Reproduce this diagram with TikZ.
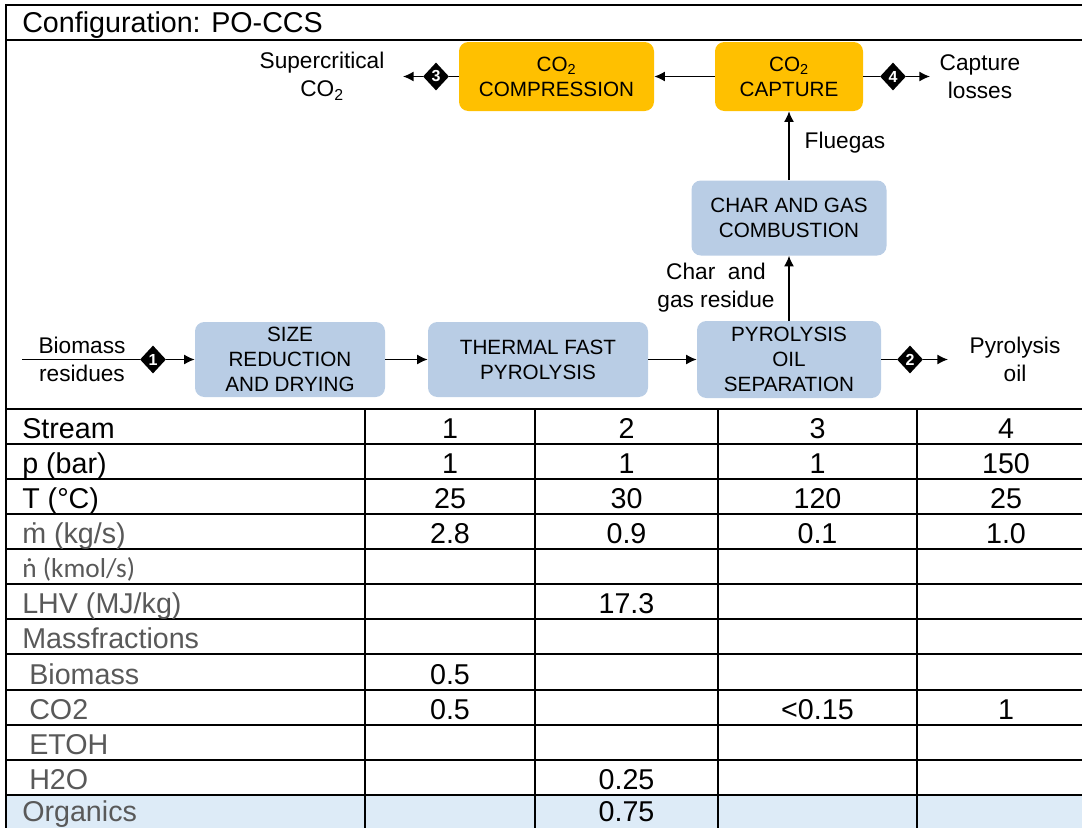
\documentclass[tikz,border=0pt]{standalone}
\usepackage{fontspec}
\setmainfont{Liberation Sans}
\newfontfamily\calib{Carlito}
\usetikzlibrary{shapes.geometric,arrows.meta}
\definecolor{boxblue}{HTML}{B9CDE5}
\definecolor{boxorange}{HTML}{FFC000}
\definecolor{rowblue}{HTML}{DDEBF7}
\definecolor{txtgray}{HTML}{595959}
\tikzset{
  px/.style={x=0.75pt,y=-0.75pt},
  proc/.style={rounded corners=7pt, inner sep=0pt, align=center,
    font=\fontsize{15.5}{18.75}\selectfont},
  bluebox/.style={proc, fill=boxblue},
  orangebox/.style={proc, fill=boxorange},
  lbl/.style={align=center, inner sep=0pt, font=\fontsize{17}{21}\selectfont},
  dia/.style={diamond, fill=black, text=white, inner sep=0pt,
    minimum width=19.5pt, minimum height=21pt,
    font=\fontsize{12}{12}\selectfont\bfseries},
  flow/.style={line width=1.1pt, -{Latex[length=8pt,width=7.5pt]}},
  plain/.style={line width=1.1pt},
  frame/.style={line width=1.9pt},
  grid/.style={line width=1.6pt},
  tlab/.style={anchor=base west, inner sep=0pt, font=\fontsize{21.5}{24}\selectfont},
  tval/.style={anchor=base, inner sep=0pt, font=\fontsize{21.5}{24}\selectfont},
}
\begin{document}
\begin{tikzpicture}[px]
\useasboundingbox (0,0) rectangle (1082,828);
\clip (0,0) rectangle (1082,828);
% organics row fill
\fill[rowblue] (7,795) rectangle (1100,830);
% frame
\draw[frame] (1100,5) -- (6,5) -- (6,830);
\draw[frame] (6,40) -- (1100,40);
\node[tlab] (title) at (22,32) {Configuration: PO-CCS};
% table grid
\foreach \y in {409,444,479,514,549,584,619,654,690,725,760,795}
  \draw[grid] (6,\y) -- (1100,\y);
\foreach \x in {365,535,718,917}
  \draw[grid] (\x,409) -- (\x,830);
% process boxes
\node[bluebox, minimum width=142.5pt, minimum height=56.25pt] (size) at (290,359.5) {SIZE\\REDUCTION\\AND DRYING};
\node[bluebox, minimum width=165pt, minimum height=56.25pt] (therm) at (538,359.5) {THERMAL FAST\\PYROLYSIS};
\node[bluebox, minimum width=138pt, minimum height=57.75pt] (pyro) at (789,359.5) {PYROLYSIS\\OIL\\SEPARATION};
\node[bluebox, minimum width=146.25pt, minimum height=56.25pt] (comb) at (789,218) {CHAR AND GAS\\COMBUSTION};
\node[orangebox, minimum width=111pt, minimum height=51.75pt] (capt) at (789,76.5) {CO\textsubscript{2}\\CAPTURE};
\node[orangebox, minimum width=146.25pt, minimum height=51.75pt] (comp) at (556.5,76.5) {CO\textsubscript{2}\\COMPRESSION};
% diamonds
\node[dia] (d1) at (153,359.5) {1};
\node[dia] (d2) at (910,359.5) {2};
\node[dia] (d3) at (436,76.5) {3};
\node[dia] (d4) at (893,76.5) {4};
% free ends
\coordinate (bin) at (22,359.5);
\coordinate (pout) at (948,359.5);
\coordinate (sout) at (403,76.5);
\coordinate (lout) at (930,76.5);
% connectors
\draw[plain] (bin) -- (d1);
\draw[flow] (d1) -- (size);
\draw[flow] (size) -- (therm);
\draw[flow] (therm) -- (pyro);
\draw[plain] (pyro) -- (d2);
\draw[flow] (d2) -- (pout);
\draw[flow] (pyro) -- (comb);
\draw[flow] (comb) -- (capt);
\draw[flow] (capt) -- (comp);
\draw[plain] (comp) -- (d3);
\draw[flow] (d3) -- (sout);
\draw[plain] (capt) -- (d4);
\draw[flow] (d4) -- (lout);
% labels
\node[lbl] (lbio) at (82,359.5) {Biomass\\residues};
\node[lbl] (lpyo) at (1015,359.5) {Pyrolysis\\oil};
\node[lbl] (lsup) at (322,76.5) {Supercritical\\CO\textsubscript{2}};
\node[lbl] (lcap) at (980,76.5) {Capture\\losses};
\node[lbl] (lchar) at (716,288) {Char\ \ and\\gas residue};
\node[lbl] (lflue) at (845,143) {Fluegas};
% table text
\node[tlab] (r1) at (22,438) {Stream};
\node[tlab] (r2) at (22,473) {p (bar)};
\node[tlab] (r3) at (22,508) {T (°C)};
\node[tlab, text=txtgray] (r4) at (22,543) {ṁ (kg/s)};
\node[tlab, text=txtgray, font=\calib\fontsize{20.5}{22}\selectfont] (r5) at (22,577) {ṅ (kmol/s)};
\node[tlab, text=txtgray] (r6) at (22,613) {LHV (MJ/kg)};
\node[tlab, text=txtgray] (r7) at (22,648) {Massfractions};
\node[tlab, text=txtgray] (r8) at (29,684) {Biomass};
\node[tlab, text=txtgray] (r9) at (29,719) {CO2};
\node[tlab, text=txtgray] (r10) at (29,754) {ETOH};
\node[tlab, text=txtgray] (r11) at (29,789) {H2O};
\node[tlab, text=txtgray] (r12) at (22,821.5) {Organics};
% values
\node[tval] (v11) at (450,438) {1};
\node[tval] (v12) at (626.5,438) {2};
\node[tval] (v13) at (817.5,438) {3};
\node[tval] (v14) at (1006,438) {4};
\node[tval] (v21) at (450,473) {1};
\node[tval] (v22) at (626.5,473) {1};
\node[tval] (v23) at (817.5,473) {1};
\node[tval] (v24) at (1006,473) {150};
\node[tval] (v31) at (450,508) {25};
\node[tval] (v32) at (626.5,508) {30};
\node[tval] (v33) at (817.5,508) {120};
\node[tval] (v34) at (1006,508) {25};
\node[tval] (v41) at (450,543) {2.8};
\node[tval] (v42) at (626.5,543) {0.9};
\node[tval] (v43) at (817.5,543) {0.1};
\node[tval] (v44) at (1006,543) {1.0};
\node[tval] (v62) at (626.5,613) {17.3};
\node[tval] (v81) at (450,684) {0.5};
\node[tval] (v91) at (450,719) {0.5};
\node[tval] (v93) at (817.5,719) {<0.15};
\node[tval] (v94) at (1006,719) {1};
\node[tval] (v112) at (626.5,789) {0.25};
\node[tval] (v122) at (626.5,821.5) {0.75};
\end{tikzpicture}
\end{document}
